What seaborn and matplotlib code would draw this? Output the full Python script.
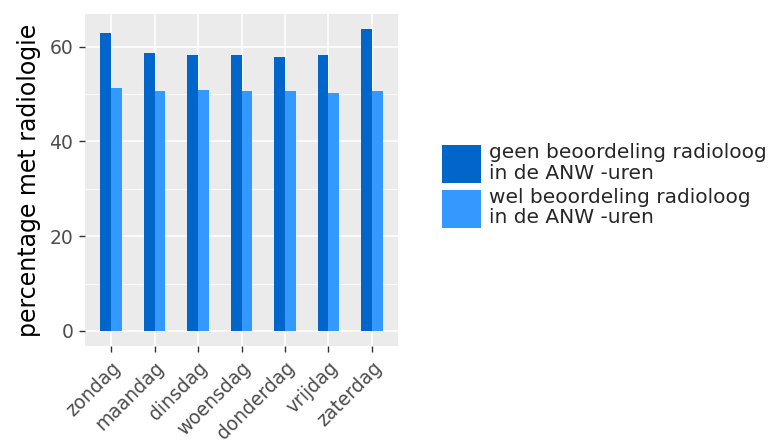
import matplotlib
matplotlib.use("Agg")
import matplotlib.pyplot as plt
import seaborn as sns
import pandas as pd
from matplotlib.ticker import MultipleLocator

days = ["zondag", "maandag", "dinsdag", "woensdag", "donderdag", "vrijdag", "zaterdag"]
geen = [62.9, 58.7, 58.3, 58.3, 57.9, 58.3, 63.7]
wel = [51.3, 50.6, 50.9, 50.6, 50.6, 50.2, 50.6]
series = ["geen beoordeling radioloog\nin de ANW -uren", "wel beoordeling radioloog\nin de ANW -uren"]
colors = ["#0066CC", "#3399FF"]

df = pd.DataFrame({
    "dag": days * 2,
    "pct": geen + wel,
    "groep": [series[0]] * len(days) + [series[1]] * len(days),
})

sns.set_theme(style="darkgrid")
plt.rcParams["font.family"] = ["DejaVu Sans"]

fig = plt.figure(figsize=(7.68, 4.46), dpi=100)
ax = fig.add_axes([85 / 768, 1 - 346 / 446, (398 - 85) / 768, (346 - 14) / 446])
ax.set_facecolor("#EBEBEB")

sns.barplot(data=df, x="dag", y="pct", hue="groep", order=days, hue_order=series,
            palette=colors, width=0.5, saturation=1, ax=ax, legend=True, linewidth=0)

ax.set_xlim(-0.6, 6.6)
ax.set_ylim(-3.18, 66.9)
ax.yaxis.set_major_locator(MultipleLocator(20))
ax.yaxis.set_minor_locator(MultipleLocator(10))
ax.grid(which="major", color="white", linewidth=1.1)
ax.grid(which="minor", axis="y", color="white", linewidth=0.55)
ax.set_axisbelow(True)
for s in ax.spines.values():
    s.set_visible(False)

ax.set_xlabel("")
ax.set_ylabel("percentage met radiologie", fontsize=17, color="black", labelpad=6)
ax.tick_params(axis="both", which="major", length=4.5, width=1, color="#333333",
               labelcolor="#4D4D4D", labelsize=13.5, pad=4, bottom=True, left=True)
ax.tick_params(axis="both", which="minor", length=0)
for lab in ax.get_xticklabels():
    lab.set_rotation(45)
    lab.set_ha("right")
    lab.set_rotation_mode("anchor")

handles, labels = ax.get_legend_handles_labels()
ax.get_legend().remove()
leg = fig.legend(handles, labels, loc="center left", bbox_to_anchor=(442 / 768, 1 - 185.5 / 446),
                 frameon=False, fontsize=14.5, handlelength=1.92, handleheight=2.55,
                 handletextpad=0.4, labelspacing=0.2, borderpad=0, borderaxespad=0)
for t in leg.get_texts():
    t.set_linespacing(1.12)

fig.savefig("out.png", dpi=100)
